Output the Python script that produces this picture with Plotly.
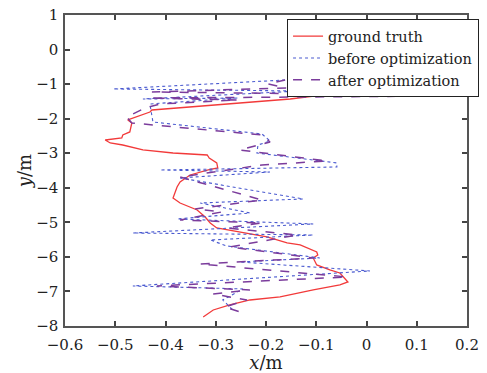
import plotly.graph_objects as go

# ground truth trajectory
truth_x = [-0.009, -0.033, -0.049, -0.053, -0.152, -0.331, -0.427, -0.431, -0.475, -0.467,
           -0.471, -0.485, -0.487, -0.520, -0.510, -0.485, -0.445, -0.385, -0.317, -0.313,
           -0.298, -0.296, -0.315, -0.351, -0.371, -0.377, -0.381, -0.385, -0.371, -0.337,
           -0.321, -0.311, -0.298, -0.252, -0.198, -0.158, -0.132, -0.099, -0.097, -0.106,
           -0.099, -0.073, -0.053, -0.037, -0.053, -0.106, -0.172, -0.232, -0.272, -0.305,
           -0.325]
truth_y = [-1.025, -1.112, -1.228, -1.257, -1.431, -1.633, -1.749, -1.807, -2.038, -2.125,
           -2.385, -2.472, -2.559, -2.617, -2.704, -2.762, -2.906, -2.993, -3.051, -3.138,
           -3.282, -3.427, -3.485, -3.630, -3.832, -3.977, -4.150, -4.295, -4.440, -4.642,
           -4.845, -5.019, -5.163, -5.279, -5.424, -5.597, -5.655, -5.858, -5.944, -6.031,
           -6.234, -6.378, -6.465, -6.726, -6.812, -6.957, -7.160, -7.247, -7.391, -7.536,
           -7.738]

# before optimization
before_x = [-0.162, -0.504, -0.132, -0.445, -0.256, -0.431, -0.425, -0.208, -0.192, -0.216,
            -0.218, -0.059, -0.059, -0.411, -0.192, -0.371, -0.126, -0.331, -0.232, -0.377,
            -0.106, -0.465, -0.106, -0.311, -0.278, -0.093, -0.252, 0.007, -0.465, -0.246,
            -0.286, -0.266]
before_y = [-0.881, -1.141, -1.199, -1.431, -1.402, -1.575, -2.096, -2.443, -2.646, -2.762,
            -2.993, -3.282, -3.398, -3.485, -3.543, -3.716, -4.324, -4.440, -4.729, -4.903,
            -5.047, -5.308, -5.366, -5.510, -5.684, -6.031, -6.147, -6.407, -6.841, -6.928,
            -7.247, -7.536]

# after optimization
after_x = [-0.162, -0.196, -0.160, -0.427, -0.073, 0.166, -0.431, -0.256, -0.411, -0.441,
           -0.477, -0.467, -0.208, -0.192, -0.252, -0.079, -0.208, -0.371, -0.208, -0.341,
           -0.288, -0.371, -0.208, -0.278, -0.138, -0.272, -0.106, -0.331, -0.039, -0.417,
           -0.232, -0.305, -0.238, -0.282, -0.252]
after_y = [-0.881, -0.997, -1.112, -1.228, -1.286, -1.344, -1.402, -1.459, -1.575, -1.691,
           -1.951, -2.125, -2.472, -2.675, -2.906, -3.225, -3.340, -3.688, -4.353, -4.613,
           -4.700, -4.932, -5.019, -5.163, -5.366, -5.713, -6.031, -6.205, -6.581, -6.841,
           -6.957, -7.073, -7.247, -7.449, -7.594]

x_ticks = [-0.6, -0.5, -0.4, -0.3, -0.2, -0.1, 0, 0.1, 0.2]
y_ticks = [1, 0, -1, -2, -3, -4, -5, -6, -7, -8]

FONT = "DejaVu Serif"

fig = go.Figure()
fig.add_trace(go.Scatter(x=truth_x, y=truth_y, mode="lines", name="ground truth",
                         line=dict(color="#f23a3a", width=1.3)))
fig.add_trace(go.Scatter(x=before_x, y=before_y, mode="lines", name="before optimization",
                         line=dict(color="#4a5ad0", width=1.1, dash="dot")))
fig.add_trace(go.Scatter(x=after_x, y=after_y, mode="lines", name="after optimization",
                         line=dict(color="#7b3c9c", width=1.5, dash="dash")))

axis_common = dict(showgrid=False, zeroline=False, showline=True, linecolor="#555555",
                   linewidth=1.5, mirror="ticks", ticks="inside", ticklen=5, tickwidth=1.5,
                   tickcolor="#444444")

fig.update_xaxes(range=[-0.6, 0.2], tickvals=x_ticks,
                 ticktext=[("\u2212" + str(abs(v))) if v < 0 else str(v) for v in x_ticks],
                 ticklabelstandoff=4,
                 title=dict(text="<i>x</i>/m", standoff=2),
                 **axis_common)
fig.update_yaxes(range=[-8, 1], tickvals=y_ticks,
                 ticktext=[("\u2212" + str(abs(v))) if v < 0 else str(v) for v in y_ticks],
                 ticklabelstandoff=2,
                 title=dict(text="<i>y</i>/m", standoff=0),
                 **axis_common)

fig.update_layout(
    width=487, height=373,
    font=dict(family=FONT, size=15, color="#222222"),
    margin=dict(l=65, r=20, t=15, b=47, autoexpand=False),
    paper_bgcolor="white", plot_bgcolor="white",
    showlegend=True,
    legend=dict(xref="container", yref="container", x=0.589, y=0.949,
                xanchor="left", yanchor="top",
                bgcolor="white", bordercolor="#222222", borderwidth=1.2,
                font=dict(size=14.5),
                itemwidth=30, tracegroupgap=0),
)

fig.write_html("out.html")
